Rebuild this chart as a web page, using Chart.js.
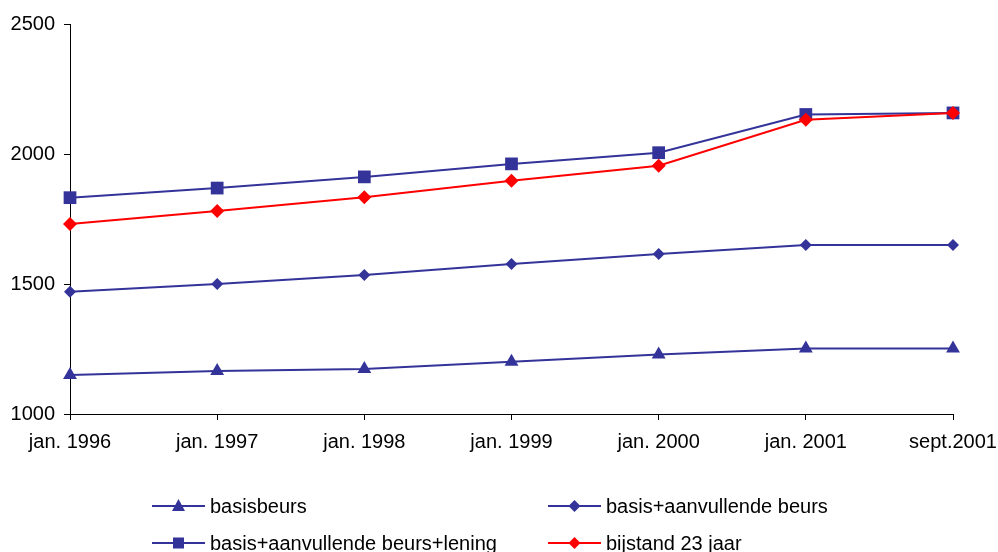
<!DOCTYPE html>
<html>
<head>
<meta charset="utf-8">
<script src="https://cdn.jsdelivr.net/npm/chart.js@4"></script>
<style>
  html, body { margin: 0; padding: 0; background: #fff; overflow: hidden; }
  #wrap { position: relative; width: 998px; height: 552px; }
  #chartBox { position: absolute; left: 0; top: 0; width: 998px; height: 460px; }
  #legend { position: absolute; left: 0; top: 0; width: 998px; height: 552px; pointer-events: none;
            font-family: 'Liberation Sans', Arial, sans-serif; font-size: 20px; color: #000; }
  .item { position: absolute; display: flex; align-items: center; height: 24px; white-space: nowrap; }
  .item svg { margin-right: 5px; }
</style>
</head>
<body>
<div id="wrap">
  <div id="chartBox"><canvas id="incomeChart"></canvas></div>
  <div id="legend"></div>
</div>
<script>
const labels = ['jan. 1996', 'jan. 1997', 'jan. 1998', 'jan. 1999', 'jan. 2000', 'jan. 2001', 'sept.2001'];

const basisbeurs = [1150, 1165, 1173, 1201, 1229, 1252, 1252];
const aanvullend = [1470, 1500, 1535, 1577, 1615, 1650, 1650];
const lening = [1832, 1869, 1912, 1962, 2005, 2152, 2158];
const bijstand = [1731, 1781, 1834, 1897, 1955, 2132, 2158];

const yTicks = [1000, 1500, 2000, 2500];

const BLUE = '#333399';
const RED = '#ff0000';
const FONT = { family: "'Liberation Sans', Arial, sans-serif", size: 20 };

const series = [
  { label: 'basisbeurs', data: basisbeurs, color: BLUE, style: 'triangle', radius: 8, order: 1 },
  { label: 'basis+aanvullende beurs', data: aanvullend, color: BLUE, style: 'rectRot', radius: 6, order: 1 },
  { label: 'basis+aanvullende beurs+lening', data: lening, color: BLUE, style: 'rect', radius: 9, order: 1 },
  { label: 'bijstand 23 jaar', data: bijstand, color: RED, style: 'rectRot', radius: 7, order: 0 },
];

const ctx = document.getElementById('incomeChart').getContext('2d');

const incomeChart = new Chart(ctx, {
  type: 'line',
  data: {
    labels,
    datasets: series.map(s => ({
      label: s.label,
      data: s.data,
      borderColor: s.color,
      backgroundColor: s.color,
      borderWidth: 2,
      pointStyle: s.style,
      pointRadius: s.radius,
      pointBorderWidth: 0,
      pointBackgroundColor: s.color,
      tension: 0,
      fill: false,
      order: s.order,
    })),
  },
  options: {
    responsive: true,
    maintainAspectRatio: false,
    animation: false,
    devicePixelRatio: 1,
    layout: { padding: { top: 24, right: 45, left: 0, bottom: 0 } },
    plugins: {
      legend: { display: false },
      tooltip: { enabled: false },
    },
    scales: {
      x: {
        offset: false,
        grid: { display: true, drawOnChartArea: false, drawTicks: true, tickLength: 6, color: '#000' },
        border: { display: true, color: '#000', width: 1 },
        ticks: { color: '#000', font: FONT, padding: 10, maxRotation: 0, autoSkip: false },
        afterFit: (scale) => {
          scale.height = 46;
          // end labels may run into the padding, keep the axis ends fixed
          scale.paddingLeft = 0;
          scale.paddingRight = 0;
        },
      },
      y: {
        min: yTicks[0],
        max: yTicks[yTicks.length - 1],
        afterBuildTicks: (scale) => { scale.ticks = yTicks.map(v => ({ value: v })); },
        grid: { display: true, drawOnChartArea: false, drawTicks: true, tickLength: 6, color: '#000' },
        border: { display: true, color: '#000', width: 1 },
        ticks: { color: '#000', font: FONT, padding: 9, callback: (v) => String(v) },
        afterFit: (scale) => { scale.width = 70; },
      },
    },
  },
});

// two-column legend under the chart
function markerSvg(s) {
  const w = 53, h = 24, cx = w / 2, cy = h / 2;
  let shape = '';
  if (s.style === 'triangle') {
    shape = `<polygon points="${cx},${cy - 7} ${cx + 6.5},${cy + 5} ${cx - 6.5},${cy + 5}" fill="${s.color}"/>`;
  } else if (s.style === 'rect') {
    shape = `<rect x="${cx - 5.5}" y="${cy - 5.5}" width="11" height="11" fill="${s.color}"/>`;
  } else {
    shape = `<polygon points="${cx},${cy - 6} ${cx + 6},${cy} ${cx},${cy + 6} ${cx - 6},${cy}" fill="${s.color}"/>`;
  }
  return `<svg width="${w}" height="${h}"><line x1="0" y1="${cy}" x2="${w}" y2="${cy}" stroke="${s.color}" stroke-width="2"/>${shape}</svg>`;
}

const legendPos = [
  { left: 152, top: 494 },
  { left: 548, top: 494 },
  { left: 152, top: 531 },
  { left: 548, top: 531 },
];

const legendEl = document.getElementById('legend');
series.forEach((s, i) => {
  const item = document.createElement('div');
  item.className = 'item';
  item.style.left = legendPos[i].left + 'px';
  item.style.top = legendPos[i].top + 'px';
  item.innerHTML = markerSvg(s) + '<span>' + s.label + '</span>';
  legendEl.appendChild(item);
});
</script>
</body>
</html>
